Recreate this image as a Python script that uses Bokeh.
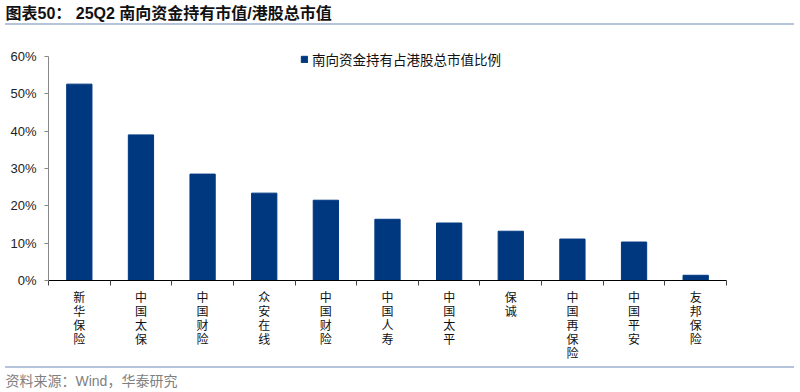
from bokeh.plotting import figure
from bokeh.layouts import column
from bokeh.models import (Label, FixedTicker, Range1d, Spacer,
                          CustomJSTickFormatter, Legend, LegendItem)
from bokeh.embed import file_html
from bokeh.resources import INLINE

categories = ["新华保险", "中国太保", "中国财险", "众安在线", "中国财险", "中国人寿",
              "中国太平", "保诚", "中国再保险", "中国平安", "友邦保险"]
values = [52.6, 39.0, 28.5, 23.4, 21.5, 16.4, 15.4, 13.2, 11.1, 10.3, 1.4]
y_ticks = [0, 10, 20, 30, 40, 50, 60]
series_name = "南向资金持有占港股总市值比例"
title_text = "图表50：  25Q2 南向资金持有市值/港股总市值"
source_text = "资料来源：Wind，华泰研究"

W = 800
TITLE_H, RULE1_H, MAIN_H, RULE2_H, FOOT_H = 23, 2, 341, 2, 24   # sums to 392
FL, FR = 48, 726            # frame left/right in canvas px
FRAME_TOP = 44 - (TITLE_H + RULE1_H)    # main frame top (canvas y 44)
FB = 280 - (TITLE_H + RULE1_H)          # main frame bottom (canvas y 280)
FONT = "Noto Sans CJK SC"
MIX_FONT = "Liberation Sans, Noto Sans CJK SC"
BAR = "#003880"
RULE = "#b4c4da"


def strip(height):
    f = figure(width=W, height=height, output_backend="svg", toolbar_location=None,
               x_range=Range1d(0, W), y_range=Range1d(0, height),
               x_axis_location=None, y_axis_location=None,
               min_border=0, min_border_left=0, min_border_right=0,
               min_border_top=0, min_border_bottom=0)
    f.grid.visible = False
    f.outline_line_color = None
    return f


def rule(height):
    return Spacer(width=789, height=height, margin=(0, 0, 0, 5),
                  styles={"background-color": RULE})


# ---- title strip (canvas y 0..23) ----
top = strip(TITLE_H)
top.add_layout(Label(x=5, y=TITLE_H - 13, x_units="screen", y_units="screen", text=title_text,
                     text_font=MIX_FONT, text_font_size="16px", text_font_style="bold",
                     text_color="#111111", text_baseline="middle"))
rule1 = rule(RULE1_H)

# ---- main chart (canvas y 25..366) ----
px_per_unit = (280 - 56) / 60.0
y_top = 60 + (56 - 44) / px_per_unit
p = figure(width=W, height=MAIN_H, output_backend="svg", toolbar_location=None,
           x_range=Range1d(-0.5, len(categories) - 0.5), y_range=Range1d(0, y_top),
           min_border_left=FL, min_border_right=W - FR, min_border_top=FRAME_TOP,
           min_border_bottom=MAIN_H - FB)
p.outline_line_color = None
p.xgrid.visible = False
p.ygrid.visible = False

xs = list(range(len(categories)))
r = p.vbar(x=xs, top=values, width=0.41, color=BAR)

xa = p.xaxis[0]
xa.ticker = FixedTicker(ticks=xs, minor_ticks=[i - 0.5 for i in range(len(categories) + 1)])
xa.major_label_overrides = {i: "\n".join(list(c)) for i, c in enumerate(categories)}
xa.major_tick_line_color = None
xa.major_tick_out = 2
xa.major_tick_in = 0
xa.minor_tick_line_color = "#444444"
xa.minor_tick_out = 5
xa.minor_tick_in = 0
xa.axis_line_color = "#000000"
xa.major_label_text_font = FONT
xa.major_label_text_font_size = "12px"
xa.major_label_text_color = "#111111"
xa.major_label_standoff = 2
xa.major_label_text_line_height = 0.83

ya = p.yaxis[0]
ya.bounds = (0, 60)
ya.ticker = FixedTicker(ticks=y_ticks)
ya.formatter = CustomJSTickFormatter(code="return tick + '%';")
ya.axis_line_color = "#888888"
ya.major_tick_line_color = "#888888"
ya.major_tick_out = 4
ya.major_tick_in = 0
ya.minor_tick_line_color = None
ya.major_label_text_font = "Liberation Sans"
ya.major_label_text_font_size = "13px"
ya.major_label_text_color = "#222222"
ya.major_label_standoff = 8

legend = Legend(items=[LegendItem(label=series_name, renderers=[r])],
                location=(300 - FL, (280 - 69)), orientation="horizontal",
                padding=0, margin=0, spacing=0, glyph_width=8, glyph_height=8,
                label_standoff=4, label_height=14,
                label_text_font=FONT, label_text_font_size="13.5px", label_text_color="#111111",
                border_line_color=None, background_fill_alpha=0)
p.add_layout(legend)

# ---- footer (canvas y 366..392) ----
rule2 = rule(RULE2_H)
foot = strip(FOOT_H)
foot.add_layout(Label(x=5, y=FOOT_H - 12, x_units="screen", y_units="screen", text=source_text,
                      text_font=MIX_FONT, text_font_size="14px",
                      text_color="#808080", text_baseline="middle"))

layout = column(column(top), rule1, p, rule2, column(foot), spacing=0)
open("out.html", "w").write(file_html(layout, INLINE))
